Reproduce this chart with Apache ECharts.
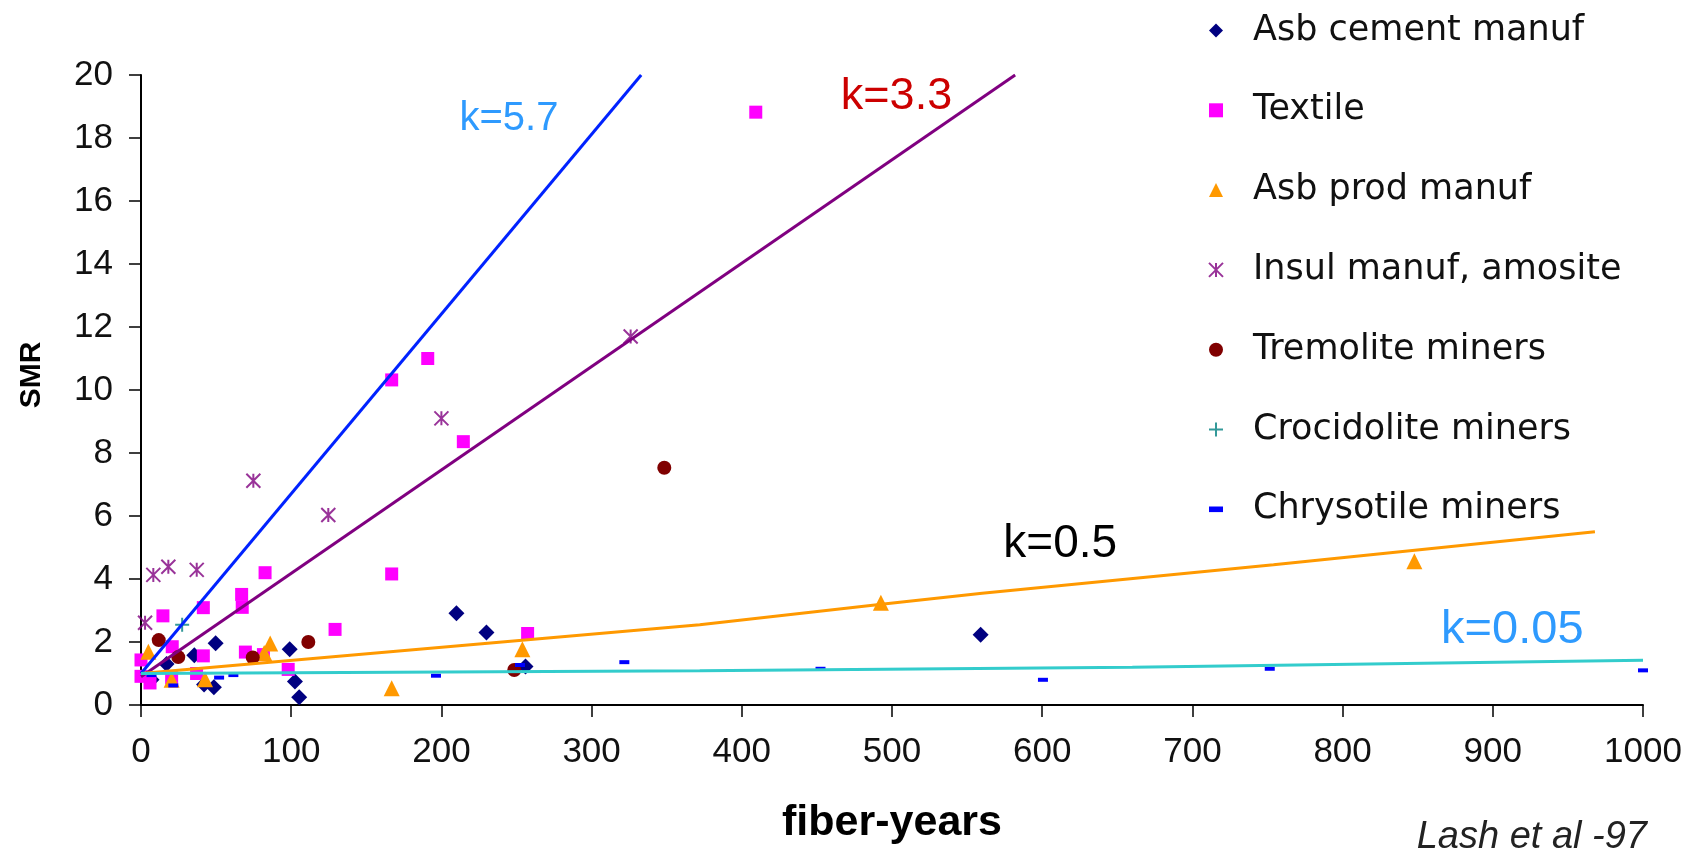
<!DOCTYPE html>
<html><head><meta charset="utf-8">
<script src="https://cdn.jsdelivr.net/npm/echarts@6/dist/echarts.min.js"></script>
<style>html,body{margin:0;padding:0;background:#fff}#c{width:1693px;height:848px}</style>
</head><body><div id="c"></div><script>
// ---- data ----
const seriesNames = ['Asb cement manuf','Textile','Asb prod manuf','Insul manuf, amosite','Tremolite miners','Crocidolite miners','Chrysotile miners'];
const asbCement = [[7,0.8],[17,1.3],[35.5,1.58],[42,0.65],[48.5,0.56],[49.7,1.96],[99,1.77],[102.5,0.75],[105.3,0.25],[210,2.91],[230,2.3],[256,1.22],[559,2.23]];
const textile = [[0,1.43],[0,0.91],[6,0.7],[14.6,2.83],[20.8,1.85],[20.4,0.86],[37,1.0],[41.5,3.09],[41.5,1.56],[67,3.51],[67.4,3.1],[69.5,1.68],[81.5,1.6],[82.6,4.2],[98,1.13],[129.2,2.4],[166.9,10.32],[166.9,4.16],[190.9,11.0],[214.6,8.36],[257.4,2.27],[409.3,18.82]];
const asbProd = [[4.9,1.69],[20.4,0.8],[42.6,0.82],[82,1.65],[86,1.95],[166.9,0.53],[253.9,1.77],[492.6,3.25],[847.8,4.56]];
const insul = [[2.7,2.61],[8.2,4.13],[18.2,4.39],[37.1,4.29],[74.8,7.12],[124.7,6.03],[200,9.1],[326,11.7]];
const tremolite = [[11.8,2.06],[24.8,1.52],[74.4,1.51],[111.4,2.0],[248.5,1.11],[348.4,7.53]];
const crocidolite = [[27.4,2.55]];
const chrysotile = [[7,0.95],[21.5,0.62],[52,0.87],[61.5,0.95],[196.4,0.93],[252.3,1.27],[321.8,1.36],[452.4,1.15],[600.5,0.8],[751.5,1.15],[1000,1.1]];
// fitted lines
const fitK57 = [[0,1.0],[333,20]];
const fitK33 = [[0,0.9],[582,20]];
const fitK05 = [[0,1.0],[372,2.55],[493,3.2],[560,3.55],[754,4.45],[968,5.5]];
const fitK005 = [[0,1.0],[372,1.09],[660,1.2],[1000,1.42]];
const xMin = 0, xMax = 1000, xStep = 100;
const yMin = 0, yMax = 20, yStep = 2;

const chart = echarts.init(document.getElementById('c'), null, {renderer:'canvas'});
const SANS = 'Liberation Sans, Arial, sans-serif';
const WIDE = 'DejaVu Sans, sans-serif';

function scatter(name, data, symbol, size, color, stroke){
  return {name, type:'scatter', data, symbol, symbolSize:size, z:2,
    itemStyle: stroke ? {color:'rgba(0,0,0,0)', borderColor:color, borderWidth:2} : {color, opacity:1}};
}
function fit(data, color, label, at, labelColor, fontSize){
  return {type:'line', data, symbol:'none', showSymbol:false, z:3, silent:true,
    lineStyle:{color, width:3},
    markPoint:{symbol:'circle', symbolSize:0, silent:true,
      label:{show:true, formatter:label, color:labelColor, fontSize, fontFamily:SANS},
      data:[{coord:at}]}};
}

const option = {
  animation:false,
  backgroundColor:'#fff',
  title:{text:'Lash et al -97', right:46, top:818, padding:0,
    textStyle:{fontStyle:'italic', fontWeight:'normal', fontSize:38, fontFamily:SANS, color:'#222'}},
  legend:{orient:'vertical', left:1203, top:8, itemWidth:14, itemHeight:14, itemGap:44.8,
    data:seriesNames, selectedMode:false,
    textStyle:{fontSize:35, fontFamily:WIDE, color:'#111', padding:[0,0,0,25]}},
  grid:{left:141, right:50, top:75, bottom:143, containLabel:false, outerBoundsMode:'none'},
  xAxis:{type:'value', min:xMin, max:xMax, interval:xStep,
    axisLine:{show:true, onZero:false, lineStyle:{color:'#000', width:2}},
    axisTick:{show:true, length:12, lineStyle:{color:'#000', width:1.5}},
    axisLabel:{fontSize:35, color:'#111', margin:30, fontFamily:SANS, formatter:v => String(v)},
    splitLine:{show:false},
    name:'fiber-years', nameLocation:'middle', nameGap:97,
    nameTextStyle:{fontSize:43, fontWeight:'bold', fontFamily:SANS, color:'#000'}},
  yAxis:{type:'value', min:yMin, max:yMax, interval:yStep,
    axisLine:{show:true, onZero:false, lineStyle:{color:'#000', width:2}},
    axisTick:{show:true, length:12, lineStyle:{color:'#000', width:1.5}},
    axisLabel:{fontSize:35, color:'#111', margin:28, fontFamily:SANS},
    splitLine:{show:false},
    name:'SMR', nameLocation:'middle', nameGap:94,
    nameTextStyle:{fontSize:30, fontWeight:'bold', fontFamily:SANS, color:'#000', padding:[0,0,0,30]}},
  series:[
    scatter(seriesNames[0], asbCement, 'diamond', 16, '#000080'),
    scatter(seriesNames[1], textile, 'rect', 13, '#FF00FF'),
    scatter(seriesNames[2], asbProd, 'triangle', 16, '#FF9900'),
    scatter(seriesNames[3], insul, 'path://M0,0 L10,10 M10,0 L0,10 M5,0 L5,10', 14, '#800080', true),
    scatter(seriesNames[4], tremolite, 'circle', 14, '#800000'),
    scatter(seriesNames[5], crocidolite, 'path://M5,0 L5,10 M0,5 L10,5', 14, '#008080', true),
    scatter(seriesNames[6], chrysotile, 'path://M0,0 H10 V4 H0 Z', [10,4], '#0000FF'),
    fit(fitK57, '#0022FF', 'k=5.7', [245,18.6], '#2E9AFE', 40),
    fit(fitK33, '#800080', 'k=3.3', [503,19.3], '#CC0000', 45),
    fit(fitK05, '#FF9900', 'k=0.5', [612,5.11], '#000', 46),
    fit(fitK005, '#33CCCC', 'k=0.05', [913,2.38], '#2E9AFE', 47)
  ]
};
chart.setOption(option);
</script></body></html>
